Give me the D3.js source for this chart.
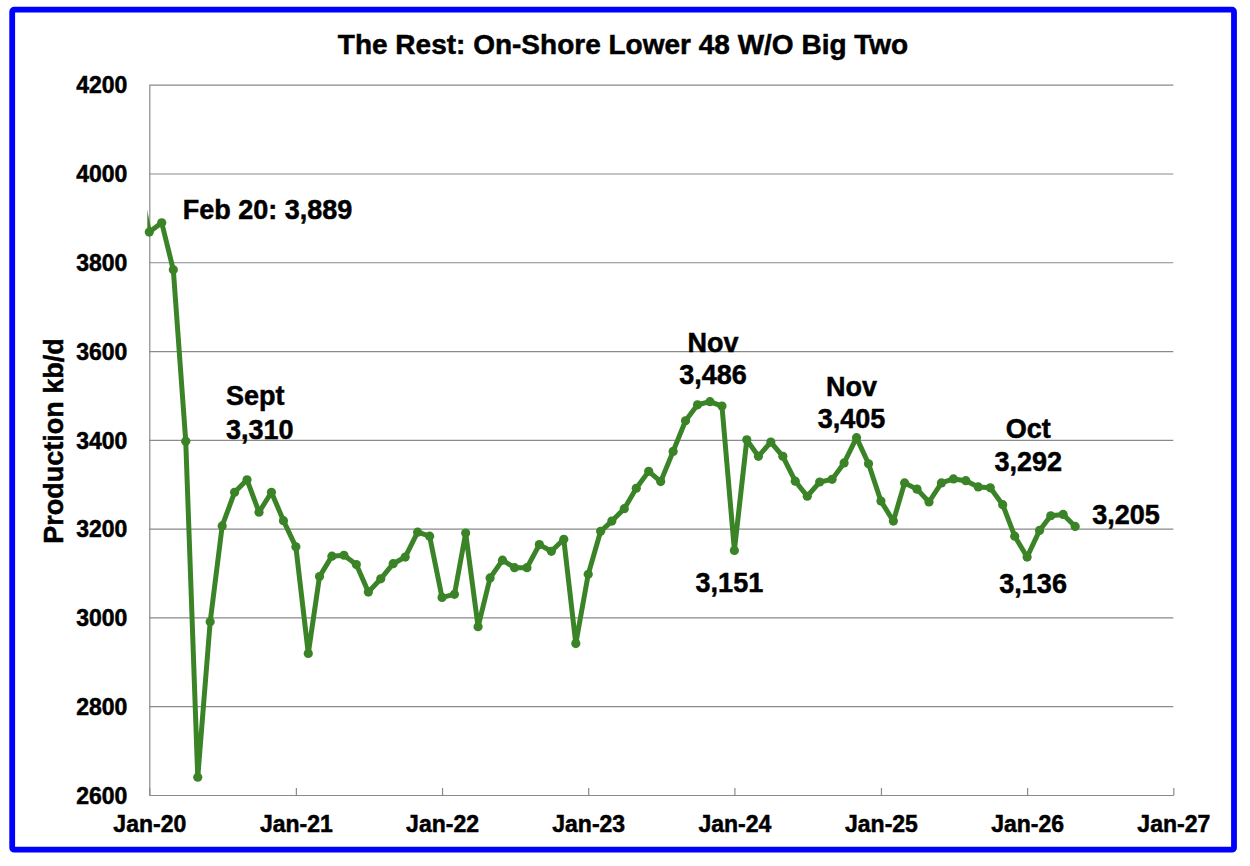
<!DOCTYPE html>
<html>
<head>
<meta charset="utf-8">
<script src="https://cdn.jsdelivr.net/npm/d3@7"></script>
<style>
  body { margin: 0; background: #fff; }
  svg { display: block; font-family: "Liberation Sans", Arial, Helvetica, sans-serif; font-weight: bold; }
  svg text { stroke: #000; stroke-width: 0.5px; paint-order: stroke; }
  .axis path, .axis line { stroke: #8a8a8a; stroke-width: 1.2; }
  .axis text { fill: #000; font-size: 23px; }
</style>
</head>
<body>
<div id="chart"></div>
<script>
const width = 1250;
const height = 866;
const margin = {top: 84.7, right: 76.7, bottom: 71, left: 149.3};
const lineColor = "#3a8427";

// monthly production, kb/d (Dec-19 only partly visible at the left edge)
const prod2019 = [4000];
const prod2020 = [3868, 3889, 3783, 3397, 2640, 2990, 3206, 3282, 3310, 3237, 3282, 3218];
const prod2021 = [3159, 2919, 3092, 3138, 3140, 3119, 3057, 3087, 3121, 3136, 3192, 3183];
const prod2022 = [3045, 3052, 3190, 2979, 3089, 3129, 3112, 3112, 3164, 3149, 3176, 2941];
const prod2023 = [3097, 3194, 3217, 3245, 3291, 3329, 3306, 3374, 3443, 3479, 3486, 3476];
const prod2024 = [3151, 3400, 3363, 3395, 3363, 3307, 3273, 3305, 3311, 3348, 3405, 3346];
const prod2025 = [3262, 3217, 3303, 3289, 3260, 3303, 3312, 3308, 3294, 3292, 3254, 3183];
const prod2026 = [3136, 3196, 3229, 3232, 3205];

const yTicks = [2600, 2800, 3000, 3200, 3400, 3600, 3800, 4000, 4200];
const xTickYears = [2020, 2021, 2022, 2023, 2024, 2025, 2026, 2027];

const titleText = "The Rest: On-Shore Lower 48 W/O Big Two";
const yTitle = "Production kb/d";

// callouts: which month they point at and what they say
const noteLines = [
  ["Feb 20: 3,889"],
  ["Sept", "3,310"],
  ["Nov", "3,486"],
  ["3,151"],
  ["Nov", "3,405"],
  ["Oct", "3,292"],
  ["3,136"],
  ["3,205"]
];
const noteMonths = [[2020, 1], [2020, 8], [2023, 10], [2024, 0], [2024, 10], [2025, 9], [2026, 0], [2026, 4]];

// series table built from the yearly arrays
const data = [];
prod2019.forEach(v => data.push({t: new Date(Date.UTC(2019, 11, 1)), v}));
[[2020, prod2020], [2021, prod2021], [2022, prod2022], [2023, prod2023],
 [2024, prod2024], [2025, prod2025], [2026, prod2026]].forEach(([yr, arr]) => {
  arr.forEach((v, i) => data.push({t: new Date(Date.UTC(yr, i, 1)), v}));
});

const x0 = new Date(Date.UTC(xTickYears[0], 0, 1));
const x1 = new Date(Date.UTC(xTickYears[xTickYears.length - 1], 0, 1));

const x = d3.scaleUtc()
  .domain([x0, x1])
  .range([margin.left, width - margin.right]);

const y = d3.scaleLinear()
  .domain([2600, 4200])
  .range([height - margin.bottom, margin.top]);

const svg = d3.select("#chart")
  .append("svg")
  .attr("width", width)
  .attr("height", height)
  .attr("viewBox", [0, 0, width, height]);

// blue frame
svg.append("rect")
  .attr("x", 12.2).attr("y", 9.7)
  .attr("width", 1234 - 12.2).attr("height", 849.7 - 9.7)
  .attr("rx", 2)
  .attr("fill", "#fff")
  .attr("stroke", "#0000ff")
  .attr("stroke-width", 5.8);

svg.append("text")
  .attr("x", 623)
  .attr("y", 54)
  .attr("text-anchor", "middle")
  .attr("font-size", 28)
  .text(titleText);

svg.append("text")
  .attr("transform", "translate(63,441) rotate(-90)")
  .attr("text-anchor", "middle")
  .attr("font-size", 27)
  .text(yTitle);

const plotW = width - margin.right - margin.left;

// y axis + gridlines
svg.append("g")
  .attr("class", "axis")
  .attr("transform", `translate(${margin.left},0)`)
  .call(d3.axisLeft(y).tickValues(yTicks).tickSize(-plotW).tickSizeOuter(0).tickPadding(22).tickFormat(d3.format("d")))
  .call(g => g.selectAll("text").attr("dy", "0.36em"));

// x axis, ticks pointing up into the plot
svg.append("g")
  .attr("class", "axis")
  .attr("transform", `translate(0,${height - margin.bottom})`)
  .call(d3.axisBottom(x)
    .tickValues(xTickYears.map(yr => new Date(Date.UTC(yr, 0, 1))))
    .tickSize(-7).tickSizeOuter(0).tickPadding(21)
    .tickFormat(d3.utcFormat("Jan-%y")));

svg.append("clipPath")
  .attr("id", "plot-clip")
  .append("rect")
  .attr("x", margin.left - 2)
  .attr("y", 0)
  .attr("width", plotW + 10)
  .attr("height", height);

const line = d3.line()
  .x(d => x(d.t))
  .y(d => y(d.v));

svg.append("path")
  .datum(data)
  .attr("clip-path", "url(#plot-clip)")
  .attr("fill", "none")
  .attr("stroke", lineColor)
  .attr("stroke-width", 5)
  .attr("stroke-linejoin", "round")
  .attr("d", line);

svg.append("g")
  .selectAll("circle")
  .data(data.filter(d => d.t >= x0))
  .join("circle")
  .attr("cx", d => x(d.t))
  .attr("cy", d => y(d.v))
  .attr("r", 4.6)
  .attr("fill", lineColor);

// callout placement relative to the marked point: anchor, dx, baseline offsets
const noteStyle = [
  {anchor: "start", dx: 21, dy: [-4]},
  {anchor: "start", dx: -21, dy: [-75, -41]},
  {anchor: "middle", dx: 3, dy: [-50, -18]},
  {anchor: "middle", dx: -5, dy: [42]},
  {anchor: "middle", dx: -5, dy: [-42, -10]},
  {anchor: "middle", dx: 38, dy: [-50, -17]},
  {anchor: "middle", dx: 6, dy: [36]},
  {anchor: "start", dx: 17, dy: [-2]}
];

noteLines.forEach((lines, i) => {
  const [yr, mo] = noteMonths[i];
  const t = new Date(Date.UTC(yr, mo, 1));
  const pt = data.find(d => +d.t === +t);
  const st = noteStyle[i];
  lines.forEach((txt, j) => {
    svg.append("text")
      .attr("x", x(pt.t) + st.dx)
      .attr("y", y(pt.v) + st.dy[j])
      .attr("text-anchor", st.anchor)
      .attr("font-size", 27)
      .text(txt);
  });
});
</script>
</body>
</html>
